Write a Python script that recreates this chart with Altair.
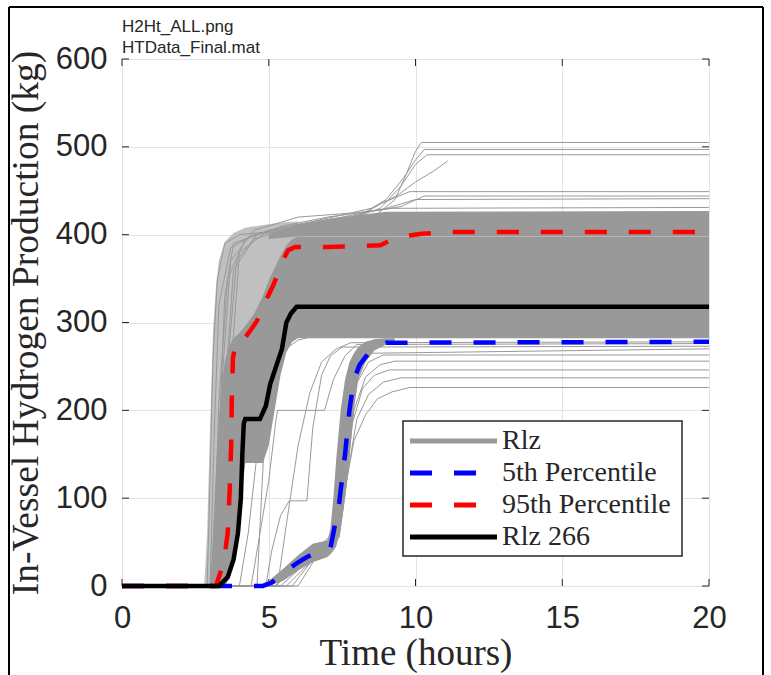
import altair as alt
import pandas as pd

# ---------------- data ----------------
X_TICKS = [0, 5, 10, 15, 20]
Y_TICKS = [0, 100, 200, 300, 400, 500, 600]
X_TITLE = "Time (hours)"
Y_TITLE = "In-Vessel Hydrogen Production (kg)"
HEADER_LINES = ["H2Ht_ALL.png", "HTData_Final.mat"]
LEGEND_LABELS = ["Rlz", "5th Percentile", "95th Percentile", "Rlz 266"]

# Rlz 266 (black)
RLZ266_T = [0, 3.3, 3.6, 3.8, 3.95, 4.05, 4.1, 4.15, 4.2, 4.7, 4.9, 5.05, 5.25, 5.45, 5.6, 5.75, 5.95, 20]
RLZ266_V = [0, 0, 10, 30, 60, 100, 150, 185, 190, 190, 205, 230, 250, 270, 300, 310, 318, 318]

# 95th percentile (red)
P95_T = [0, 3.2, 3.35, 3.5, 3.6, 3.67, 3.72, 3.74, 3.78, 3.9, 4.2, 4.4, 4.6, 4.9, 5.15, 5.45, 5.65, 5.9, 7.0, 8.8, 9.3, 9.8, 10.2, 10.8, 11.2, 20]
P95_V = [0, 0, 15, 35, 60, 110, 160, 210, 260, 280, 283, 292, 302, 325, 342, 368, 382, 386, 386, 388, 396, 399, 401, 402, 403, 403]

# 5th percentile (blue)
P05_T = [0, 4.8, 5.1, 5.4, 5.7, 6.0, 6.3, 6.8, 7.1, 7.2, 7.4, 7.6, 7.75, 7.9, 8.1, 8.4, 8.8, 9.0, 20]
P05_V = [0, 0, 4, 12, 20, 27, 33, 40, 43, 60, 95, 150, 200, 235, 252, 265, 275, 277, 278]

# realization envelopes (dense gray regions)
SPREAD_T = [2.8, 2.9, 3.0, 3.1, 3.2, 3.3, 3.5, 3.8, 4.2, 4.6, 5.0, 5.5, 6.0]
SPREAD_LO = [0, 0, 0, 0, 0, 0, 0, 30, 140, 140, 200, 280, 300]
SPREAD_HI = [0, 60, 180, 290, 340, 370, 392, 402, 408, 410, 412, 414, 415]

CORE_T = [3.0, 3.1, 3.2, 3.3, 3.4, 3.5, 3.6, 3.7, 3.8, 3.9, 4.0, 4.1, 4.2, 4.5, 4.8, 5.0, 5.2, 5.4, 5.6, 5.8, 6.0, 20]
CORE_LO = [0, 0, 0, 0, 0, 0, 5, 15, 30, 48, 70, 115, 140, 140, 140, 160, 200, 240, 266, 278, 282, 282]
CORE_HI = [0, 60, 130, 190, 230, 255, 268, 276, 282, 285, 288, 292, 296, 310, 330, 348, 362, 376, 388, 395, 398, 398]

TOPBAND_T = [5.0, 6.0, 7.5, 9.0, 20]
TOPBAND_LO = [395, 398, 398, 398, 398]
TOPBAND_HI = [400, 412, 420, 426, 427]

LATE_T = [4.6, 5.0, 5.5, 6.0, 6.5, 7.0, 7.1, 7.2, 7.3, 7.45, 7.6, 7.75, 7.9, 8.05, 8.3, 8.6, 9.0, 9.3]
LATE_LO = [0, 0, 6, 18, 27, 33, 36, 40, 45, 65, 100, 145, 200, 235, 255, 268, 275, 280]
LATE_HI = [0, 6, 20, 35, 48, 52, 65, 100, 145, 200, 235, 255, 265, 272, 278, 281, 282, 282]

# individual outlying realizations
O1_T = [0, 2.9, 3.0, 3.1, 3.25, 3.5, 4.0, 5.5, 7.0, 8.5, 9.3, 9.7, 10.0, 10.2, 20]
O1_V = [0, 0, 120, 260, 350, 390, 400, 405, 410, 418, 440, 470, 495, 505, 505]
O2_T = [0, 3.2, 3.35, 3.5, 3.8, 5.0, 6.5, 8.0, 9.0, 9.6, 10.0, 10.3, 20]
O2_V = [0, 0, 200, 330, 390, 405, 410, 420, 440, 465, 485, 497, 497]
O3_T = [0, 3.0, 3.15, 3.3, 3.7, 4.5, 6.0, 7.5, 8.8, 9.5, 10.0, 10.4, 20]
O3_V = [0, 0, 180, 320, 385, 400, 406, 415, 430, 455, 480, 491, 491]
O4_T = [0, 3.4, 3.6, 3.9, 4.6, 6.5, 8.5, 9.4, 10.0, 10.6, 11.1]
O4_V = [0, 0, 250, 370, 400, 415, 430, 445, 460, 472, 484]
O5_T = [0, 3.3, 3.5, 3.8, 4.5, 6.0, 7.5, 8.3, 8.8, 9.3, 9.8, 20]
O5_V = [0, 0, 220, 360, 395, 410, 418, 425, 435, 442, 449, 449]
O6_T = [0, 3.1, 3.3, 3.6, 4.2, 5.5, 7.0, 8.8, 9.5, 10.3, 20]
O6_V = [0, 0, 210, 350, 395, 410, 420, 428, 432, 444, 444]
O7_T = [0, 3.5, 3.7, 4.0, 5.0, 6.0, 7.5, 9.0, 10.0, 20]
O7_V = [0, 0, 240, 380, 405, 412, 420, 430, 440, 441]
O8_T = [0, 3.2, 3.4, 3.7, 4.5, 6.0, 8.0, 9.2, 20]
O8_V = [0, 0, 230, 370, 405, 420, 425, 430, 431]
L1_T = [0, 5.6, 6.2, 6.8, 7.3, 7.6, 7.9, 8.3, 8.7, 9.2, 9.8, 20]
L1_V = [0, 0, 20, 38, 50, 110, 165, 195, 213, 221, 226, 226]
L2_T = [0, 5.4, 6.0, 6.8, 7.4, 7.7, 8.0, 8.4, 8.9, 9.5, 20]
L2_V = [0, 0, 18, 40, 55, 130, 190, 218, 232, 237, 237]
L3_T = [0, 5.8, 6.5, 7.2, 7.5, 7.8, 8.2, 8.6, 9.1, 20]
L3_V = [0, 0, 30, 48, 80, 180, 225, 240, 246, 246]
L4_T = [0, 6.0, 6.6, 7.3, 7.6, 7.9, 8.3, 8.8, 9.3, 20]
L4_V = [0, 0, 32, 50, 110, 200, 238, 252, 256, 256]
L5_T = [0, 5.2, 5.8, 6.5, 7.1, 7.5, 7.9, 8.4, 8.9, 20]
L5_V = [0, 0, 15, 35, 50, 150, 225, 255, 263, 263]
L6_T = [0, 5.0, 5.9, 6.7, 7.2, 7.6, 8.0, 8.5, 20]
L6_V = [0, 0, 25, 45, 60, 190, 245, 265, 270]
F1_T = [0, 4.4, 4.7, 5.0, 5.25, 5.3, 6.9, 7.2, 7.6, 8.0, 20]
F1_V = [0, 0, 60, 120, 190, 200, 200, 235, 262, 275, 276]
F2_T = [0, 4.9, 5.1, 5.4, 5.7, 6.3, 6.5, 6.8, 7.1, 7.5, 20]
F2_V = [0, 0, 40, 80, 97, 97, 180, 240, 262, 272, 273]
F3_T = [0, 4.0, 4.3, 4.6, 4.9, 5.2, 5.6, 6.0, 20]
F3_V = [0, 0, 60, 150, 220, 255, 275, 285, 286]
F4_T = [0, 5.3, 5.6, 6.0, 6.4, 6.8, 7.3, 7.8, 20]
F4_V = [0, 0, 70, 160, 220, 255, 270, 277, 278]
F5_T = [0, 4.6, 4.75, 4.9, 5.1, 5.5, 6.0, 6.5, 20]
F5_V = [0, 0, 100, 200, 245, 268, 280, 284, 285]

OUTLIERS = [(O1_T, O1_V), (O2_T, O2_V), (O3_T, O3_V), (O4_T, O4_V), (O5_T, O5_V),
            (O6_T, O6_V), (O7_T, O7_V), (O8_T, O8_V), (L1_T, L1_V), (L2_T, L2_V),
            (L3_T, L3_V), (L4_T, L4_V), (L5_T, L5_V), (L6_T, L6_V), (F1_T, F1_V),
            (F2_T, F2_V), (F3_T, F3_V), (F4_T, F4_V), (F5_T, F5_V)]

# ---------------- styling ----------------
W, H = 587, 527
GRAY = "#999999"
INK = "#262626"
SANS = "Liberation Sans"
SERIF = "Liberation Serif"

xs = alt.Scale(domain=[0, 20], nice=False, zero=False)
ys = alt.Scale(domain=[0, 600], nice=False, zero=False)

X_AXIS = alt.Axis(values=X_TICKS, grid=True, gridColor="#e3e3e3", gridWidth=1,
                  domain=False, ticks=False, tickSize=0, labelPadding=17, labelFlush=False,
                  labelFont=SANS, labelFontSize=31, labelColor=INK,
                  titleFont=SERIF, titleFontSize=37, titleFontWeight="normal",
                  titleColor=INK, titleX=W / 2, titleY=78, titleBaseline="alphabetic",
                  titleAlign="center")
Y_AXIS = alt.Axis(values=Y_TICKS, grid=True, gridColor="#e3e3e3", gridWidth=1,
                  domain=False, ticks=False, tickSize=0, labelPadding=15, labelFlush=False,
                  labelFont=SANS, labelFontSize=31, labelColor=INK,
                  titleFont=SERIF, titleFontSize=37.5, titleFontWeight="normal",
                  titleColor=INK, titleX=-85, titleY=H / 2, titleAngle=270,
                  titleBaseline="alphabetic", titleAlign="center")


def X(field="t"):
    return alt.X(f"{field}:Q", scale=xs, axis=X_AXIS, title=X_TITLE)


def Y(field="v"):
    return alt.Y(f"{field}:Q", scale=ys, axis=Y_AXIS, title=Y_TITLE)


def band(t, lo, hi, color, opacity=1.0):
    df = pd.DataFrame({"t": t, "v": lo, "hi": hi})
    return alt.Chart(df).mark_area(color=color, opacity=opacity, interpolate="linear").encode(
        x=X(), y=Y(), y2=alt.Y2("hi:Q"))


def line(t, v, color, width, dash=None):
    df = pd.DataFrame({"t": t, "v": v})
    kw = dict(color=color, strokeWidth=width, interpolate="linear", strokeCap="butt")
    if dash:
        kw["strokeDash"] = dash
    return alt.Chart(df).mark_line(**kw).encode(x=X(), y=Y())


layers = []
one = pd.DataFrame({"a": [0]})

# inner ticks (MATLAB style)
xt = pd.DataFrame({"t": X_TICKS})
yt = pd.DataFrame({"v": Y_TICKS})
layers.append(alt.Chart(xt).mark_rule(color=INK, strokeWidth=1).encode(x=X(), y=alt.value(H), y2=alt.value(H - 7)))
layers.append(alt.Chart(xt).mark_rule(color=INK, strokeWidth=1).encode(x=X(), y=alt.value(0), y2=alt.value(7)))
layers.append(alt.Chart(yt).mark_rule(color=INK, strokeWidth=1).encode(y=Y(), x=alt.value(0), x2=alt.value(7)))
layers.append(alt.Chart(yt).mark_rule(color=INK, strokeWidth=1).encode(y=Y(), x=alt.value(W), x2=alt.value(W - 7)))

# realizations
layers.append(band(SPREAD_T, SPREAD_LO, SPREAD_HI, "#c0c0c0"))
rows = []
for i, (t, v) in enumerate(OUTLIERS):
    for a, b in zip(t, v):
        rows.append({"t": a, "v": b, "id": i})
out_df = pd.DataFrame(rows)
layers.append(alt.Chart(out_df).mark_line(color=GRAY, strokeWidth=1, interpolate="linear").encode(
    x=X(), y=Y(), detail="id:N"))
layers.append(band(TOPBAND_T, TOPBAND_LO, TOPBAND_HI, GRAY))
layers.append(band(CORE_T, CORE_LO, CORE_HI, GRAY))
layers.append(band(LATE_T, LATE_LO, LATE_HI, GRAY))

# percentiles and Rlz 266
layers.append(line(P05_T, P05_V, "#0000ff", 4.5, [22, 22]))
layers.append(line(P95_T, P95_V, "#ff0000", 4.5, [22, 22]))
layers.append(line(RLZ266_T, RLZ266_V, "#000000", 4.5))

# header text
for k, s in enumerate(HEADER_LINES):
    layers.append(alt.Chart(one).mark_text(font=SANS, fontSize=17, color=INK, align="left",
                                           baseline="alphabetic").encode(
        x=alt.value(0), y=alt.value(-27 + 21 * k), text=alt.value(s)))

# legend
LX0, LX1, LY0, LY1 = 281, 560, 362, 497
layers.append(alt.Chart(one).mark_rect(fill="white", stroke=INK, strokeWidth=1.5).encode(
    x=alt.value(LX0), x2=alt.value(LX1), y=alt.value(LY0), y2=alt.value(LY1)))
LEG_COLORS = [GRAY, "#0000ff", "#ff0000", "#000000"]
LEG_DASH = [None, [22, 22], [22, 22], None]
LEG_Y = [382, 414, 446, 478]
for lab, c, d, yy in zip(LEGEND_LABELS, LEG_COLORS, LEG_DASH, LEG_Y):
    kw = dict(color=c, strokeWidth=5, strokeCap="butt")
    if d:
        kw["strokeDash"] = d
    layers.append(alt.Chart(one).mark_rule(**kw).encode(
        x=alt.value(288), x2=alt.value(375), y=alt.value(yy)))
    layers.append(alt.Chart(one).mark_text(font=SERIF, fontSize=28, color=INK, align="left",
                                           baseline="middle").encode(
        x=alt.value(380), y=alt.value(yy), text=alt.value(lab)))

# figure frame
layers.append(alt.Chart(one).mark_rule(color="black", strokeWidth=2).encode(
    x=alt.value(-113), y=alt.value(-52), y2=alt.value(620)))
layers.append(alt.Chart(one).mark_rule(color="black", strokeWidth=2).encode(
    x=alt.value(641), y=alt.value(-52), y2=alt.value(620)))
layers.append(alt.Chart(one).mark_rule(color="black", strokeWidth=2).encode(
    x=alt.value(-113), x2=alt.value(641), y=alt.value(-52)))

chart = alt.layer(*layers).properties(
    width=W, height=H, autosize="none",
    padding={"left": 122, "top": 59, "right": 62, "bottom": 89},
).configure_view(stroke=INK, strokeWidth=1.2).configure(background="white")

chart.save("out.html", embed_options={"renderer": "svg", "actions": False})
